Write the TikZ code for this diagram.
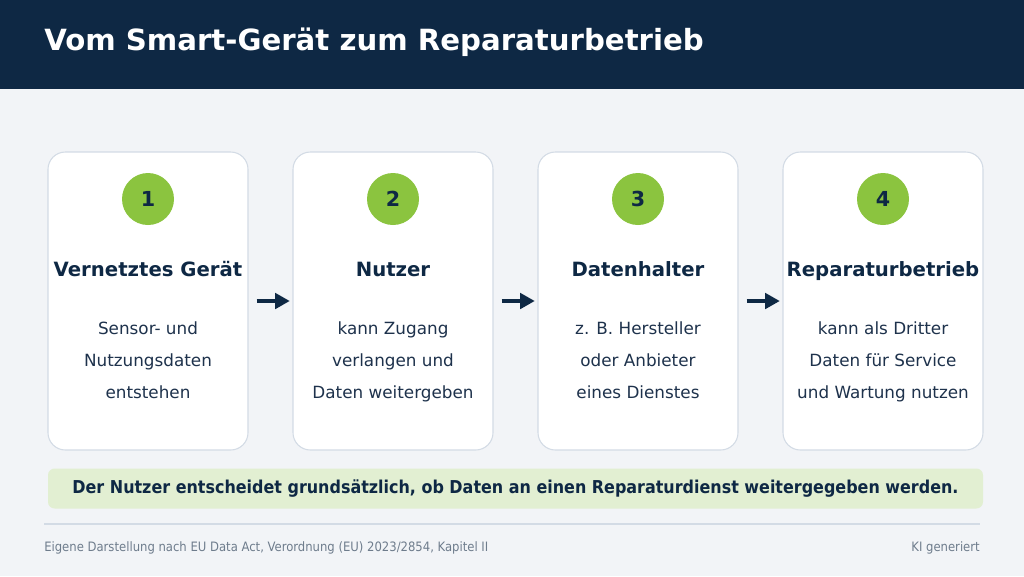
\documentclass[tikz,border=0pt]{standalone}
\usepackage{fontspec}
\setmainfont{DejaVu Sans}
\newfontfamily\condfont{DejaVu Sans Condensed}
\usetikzlibrary{arrows.meta}

\definecolor{navy}{HTML}{0E2844}
\definecolor{bodytext}{HTML}{1E324C}
\definecolor{pagebg}{HTML}{F2F4F7}
\definecolor{cardline}{HTML}{D3DBE5}
\definecolor{numgreen}{HTML}{8BC43F}
\definecolor{notebg}{HTML}{E2EFD2}
\definecolor{footgrey}{HTML}{6E7C8C}

\tikzset{
  card/.style={draw=cardline, line width=0.8pt, fill=white, rounded corners=13pt,
    minimum width=150pt, minimum height=223.5pt},
  num/.style={circle, fill=numgreen, minimum size=39pt, inner sep=0pt,
    text=navy, font=\fontsize{15.5}{18}\selectfont\bfseries},
  head/.style={anchor=base, inner sep=0pt, text=navy, font=\fontsize{14.75}{18}\selectfont\bfseries},
  body/.style={text=bodytext, align=center, inner sep=0pt, font=\fontsize{12.6}{24}\selectfont,
    execute at begin node=\strut, execute at end node=\strut},
  flow/.style={-{Triangle[length=11pt, width=11.5pt]}, draw=navy, line width=3pt,
    shorten <=6pt, shorten >=2pt},
  foot/.style={inner sep=0pt, text=footgrey, font=\condfont\fontsize{9.7}{12}\selectfont}
}

\begin{document}
\begin{tikzpicture}[x=0.75pt, y=-0.75pt]
\useasboundingbox (0,0) rectangle (1024,576);
\fill[pagebg] (0,0) rectangle (1024,576);
% header
\fill[navy] (0,0) rectangle (1024,89);
\node[anchor=west, inner sep=0pt, text=white, font=\fontsize{21.9}{26}\selectfont\bfseries] (title) at (44,42)
  {Vom Smart-Gerät zum Reparaturbetrieb};

% the four steps
\node[card] (card1) at (148,301) {};
\node[card] (card2) at (393,301) {};
\node[card] (card3) at (638,301) {};
\node[card] (card4) at (883,301) {};

\node[num] (num1) at (148,199) {1};
\node[num] (num2) at (393,199) {2};
\node[num] (num3) at (638,199) {3};
\node[num] (num4) at (883,199) {4};

\node[head] (head1) at (148,276) {Vernetztes Gerät};
\node[head] (head2) at (393,276) {Nutzer};
\node[head] (head3) at (638,276) {Datenhalter};
\node[head] (head4) at (883,276) {Reparaturbetrieb};

\node[body] (body1) at (148,365) {Sensor- und\\Nutzungsdaten\\entstehen};
\node[body] (body2) at (393,365) {kann Zugang\\verlangen und\\Daten weitergeben};
\node[body] (body3) at (638,365) {z. B. Hersteller\\oder Anbieter\\eines Dienstes};
\node[body] (body4) at (883,365) {kann als Dritter\\Daten für Service\\und Wartung nutzen};

\draw[flow] (card1.east) -- (card2.west);
\draw[flow] (card2.east) -- (card3.west);
\draw[flow] (card3.east) -- (card4.west);

% note and footer
\node[fill=notebg, rounded corners=5pt, minimum width=701.25pt, minimum height=30pt,
  text=navy, font=\condfont\fontsize{13.3}{16}\selectfont\bfseries] (note) at (515.5,488.5)
  {Der Nutzer entscheidet grundsätzlich, ob Daten an einen Reparaturdienst weitergegeben werden.};
\draw[cardline, line width=1pt] (44,524) -- (980,524);
\node[foot, anchor=west] (source) at (44,548)
  {Eigene Darstellung nach EU Data Act, Verordnung (EU) 2023/2854, Kapitel II};
\node[foot, anchor=east] (kinote) at (980,548) {KI generiert};
\end{tikzpicture}
\end{document}
